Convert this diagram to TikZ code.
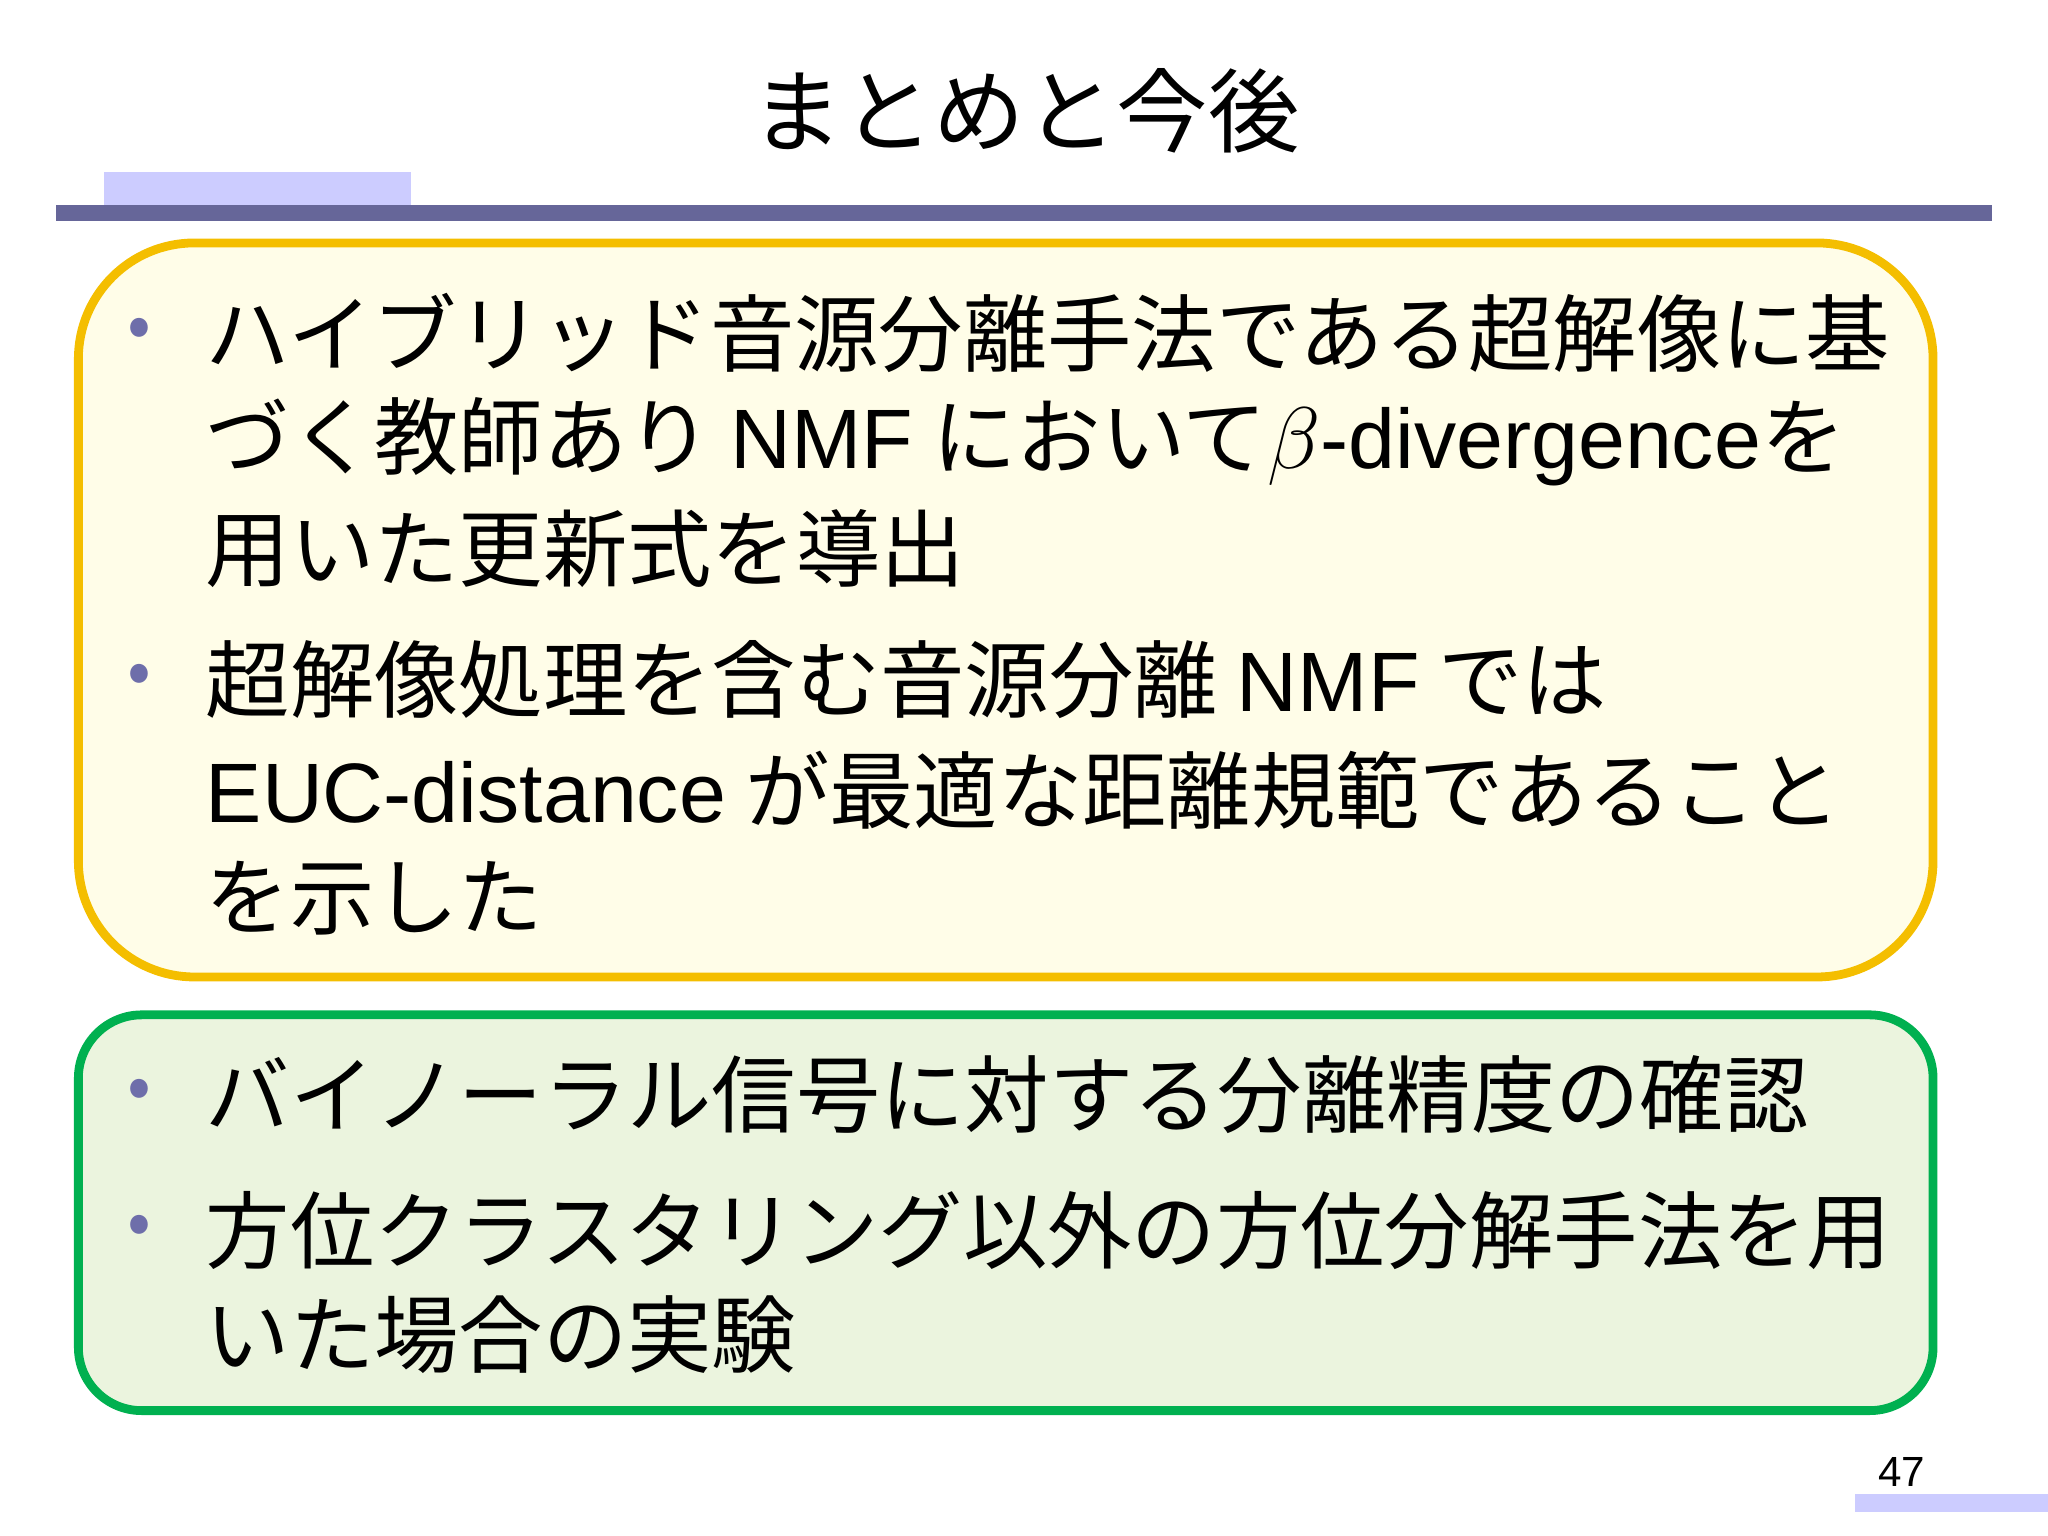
\documentclass[tikz,border=0pt]{standalone}
\usepackage{fontspec}
\setmainfont{Noto Sans CJK JP}
\newfontfamily\latinf{Liberation Sans}
\definecolor{barlight}{RGB}{204,204,255}
\definecolor{bardark}{RGB}{102,102,153}
\definecolor{yfill}{RGB}{255,253,232}
\definecolor{yedge}{RGB}{244,190,0}
\definecolor{gfill}{RGB}{235,244,222}
\definecolor{gedge}{RGB}{0,176,80}
\definecolor{bul}{RGB}{110,110,170}
\begin{document}
\begin{tikzpicture}[x=0.01306cm,y=-0.01306cm,
  ln/.style={anchor=west,inner sep=0pt,font=\fontsize{24}{28}\selectfont},
  bl/.style={anchor=center,inner sep=0pt,text=bul,font=\fontsize{20}{24}\selectfont}]
\useasboundingbox (0,0) rectangle (1568,1176);
\node[inner sep=0pt,font=\fontsize{26}{32}\selectfont] (title) at (785,85) {まとめと今後};
\fill[barlight] (80,132) rectangle (315,157);
\fill[bardark] (43,157) rectangle (1525,169);
\draw[yedge,line width=2.5pt,fill=yfill,rounded corners=33pt] (60,186) rectangle (1480,748);
\draw[gedge,line width=2.5pt,fill=gfill,rounded corners=18pt] (60,777) rectangle (1480,1080);
\node[bl] (b1) at (107,255) {•};
\node[ln] (l1) at (157,255) {ハイブリッド音源分離手法である超解像に基};
\node[ln] (l2) at (157,338) {づく教師あり {\latinf NMF} において$\beta${\latinf -divergence}を};
\node[ln] (l3) at (157,420) {用いた更新式を導出};
\node[bl] (b2) at (107,520) {•};
\node[ln] (l4) at (157,520) {超解像処理を含む音源分離 {\latinf NMF} では};
\node[ln] (l5) at (157,605) {{\latinf EUC-distance} が最適な距離規範であること};
\node[ln] (l6) at (157,688) {を示した};
\node[bl] (b3) at (107,838) {•};
\node[ln] (l7) at (157,838) {バイノーラル信号に対する分離精度の確認};
\node[bl] (b4) at (107,942) {•};
\node[ln] (l8) at (157,942) {方位クラスタリング以外の方位分解手法を用};
\node[ln] (l9) at (157,1022) {いた場合の実験};
\fill[barlight] (1420,1144) rectangle (1568,1158);
\node[inner sep=0pt,font=\latinf\fontsize{12}{14}\selectfont] (pg) at (1456,1127) {47};
\end{tikzpicture}
\end{document}
